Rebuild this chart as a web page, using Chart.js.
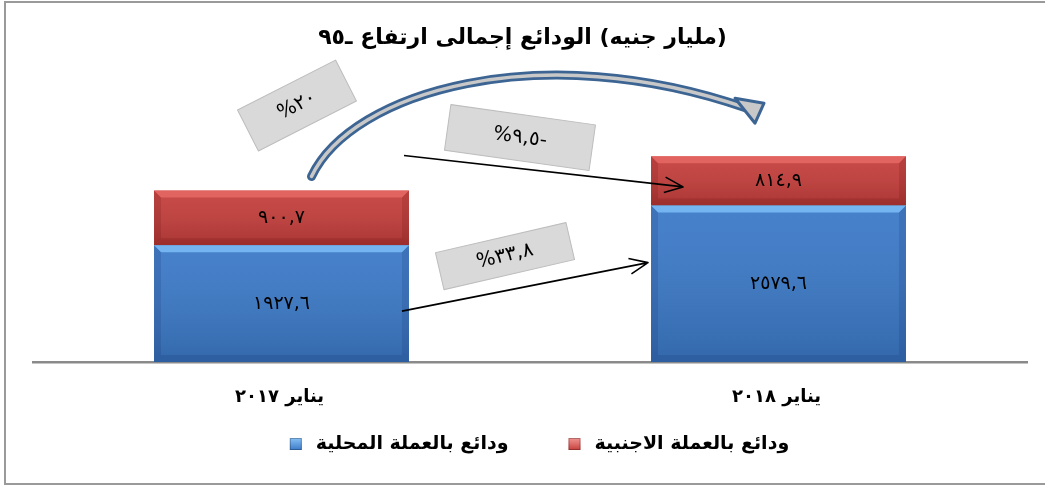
<!DOCTYPE html>
<html>
<head>
<meta charset="utf-8">
<script src="https://cdn.jsdelivr.net/npm/chart.js@4/dist/chart.umd.min.js"></script>
<style>
  html, body { margin: 0; padding: 0; background: #fff; }
  canvas { display: block; }
</style>
</head>
<body>
<canvas id="depositsChart" width="1045" height="485"></canvas>
<script>
// data (billion EGP)
const categories = ['يناير ٢٠١٧', 'يناير ٢٠١٨'];
const localDeposits = [1927.6, 2579.6];
const foreignDeposits = [900.7, 814.9];
const seriesNames = ['ودائع بالعملة المحلية', 'ودائع بالعملة الاجنبية'];
const seriesColors = ['#3b79c7', '#c43e3b'];
const chartTitle = '٩٥ـ ارتفاع إجمالى الودائع (مليار جنيه)';

const FONT = '"DejaVu Sans", sans-serif';

const arabicNum = v => String(v).replace('.', ',').replace(/[0-9]/g, d => '٠١٢٣٤٥٦٧٨٩'[d]);

function pctLabel(from, to) {
    const p = (to / from - 1) * 100;
    let s = Math.abs(p).toFixed(1);
    if (s.endsWith('.0')) s = s.slice(0, -2);
    return '%' + arabicNum(s) + (p < 0 ? '-' : '');
}

const totals = localDeposits.map((v, i) => v + foreignDeposits[i]);
const totalChange = pctLabel(totals[0], totals[1]);
const foreignChange = pctLabel(foreignDeposits[0], foreignDeposits[1]);
const localChange = pctLabel(localDeposits[0], localDeposits[1]);

// title in the picture: numbered words run left to right, the bracket keeps RTL order
function titlePieces(text) {
    const m = text.match(/^(.*?)\s*(\(.*\))$/);
    const main = m ? m[1] : text;
    const pieces = main.split(/(\s+|[\u0660-\u0669]+)/).filter(t => t !== '').map(t => ({ t, dir: 'ltr' }));
    if (m) pieces.push({ t: ' ', dir: 'ltr' }, { t: m[2], dir: 'rtl' });
    return pieces;
}
function drawTitle(ctx, text, cx, y) {
    const pieces = titlePieces(text);
    const w = pieces.reduce((s, p) => s + ctx.measureText(p.t).width, 0);
    let x = cx - w / 2;
    ctx.save();
    ctx.textBaseline = 'middle';
    pieces.forEach(p => {
        const pw = ctx.measureText(p.t).width;
        ctx.direction = p.dir;
        ctx.textAlign = p.dir === 'rtl' ? 'right' : 'left';
        if (p.t.trim()) ctx.fillText(p.t, p.dir === 'rtl' ? x + pw : x, y);
        x += pw;
    });
    ctx.restore();
}
function drawRtl(ctx, text, x, y, align) {
    ctx.save();
    ctx.direction = 'rtl';
    ctx.textAlign = align;
    ctx.textBaseline = 'middle';
    ctx.fillText(text, x, y);
    ctx.restore();
}

function bevel(ctx, el, light, dark) {
    const { x, y, base, width } = el.getProps(['x', 'y', 'base', 'width'], true);
    const l = x - width / 2, r = x + width / 2, t = Math.min(y, base), b = Math.max(y, base);
    const e = 7;
    const g = ctx.createLinearGradient(0, t, 0, b);
    g.addColorStop(0, 'rgba(255,255,255,0.06)');
    g.addColorStop(1, 'rgba(0,0,0,0.14)');
    ctx.fillStyle = g;
    ctx.fillRect(l, t, width, b - t);
    ctx.fillStyle = light;
    ctx.beginPath();
    ctx.moveTo(l, t); ctx.lineTo(r, t); ctx.lineTo(r - e, t + e); ctx.lineTo(l + e, t + e);
    ctx.closePath(); ctx.fill();
    ctx.fillStyle = dark;
    ctx.beginPath();
    ctx.moveTo(l, t); ctx.lineTo(l + e, t + e); ctx.lineTo(l + e, b - e); ctx.lineTo(l, b);
    ctx.closePath(); ctx.fill();
    ctx.beginPath();
    ctx.moveTo(r, t); ctx.lineTo(r - e, t + e); ctx.lineTo(r - e, b - e); ctx.lineTo(r, b);
    ctx.closePath(); ctx.fill();
    ctx.beginPath();
    ctx.moveTo(l, b); ctx.lineTo(l + e, b - e); ctx.lineTo(r - e, b - e); ctx.lineTo(r, b);
    ctx.closePath(); ctx.fill();
}

function arrow(ctx, x1, y1, x2, y2) {
    const a = Math.atan2(y2 - y1, x2 - x1), h = 20;
    ctx.beginPath();
    ctx.moveTo(x1, y1); ctx.lineTo(x2, y2);
    ctx.moveTo(x2 - h * Math.cos(a - 0.4), y2 - h * Math.sin(a - 0.4));
    ctx.lineTo(x2, y2);
    ctx.lineTo(x2 - h * Math.cos(a + 0.4), y2 - h * Math.sin(a + 0.4));
    ctx.stroke();
}

function tag(ctx, cx, cy, w, h, deg, text) {
    ctx.save();
    ctx.translate(cx, cy);
    ctx.rotate(deg * Math.PI / 180);
    ctx.fillStyle = '#d9d9d9';
    ctx.strokeStyle = '#bdbdbd';
    ctx.lineWidth = 1;
    ctx.fillRect(-w / 2, -h / 2, w, h);
    ctx.strokeRect(-w / 2, -h / 2, w, h);
    ctx.fillStyle = '#000';
    ctx.font = '20px ' + FONT;
    ctx.direction = 'ltr';
    ctx.textAlign = 'center';
    ctx.textBaseline = 'middle';
    ctx.fillText(text, 0, 0);
    ctx.restore();
}

const shades = [
    { light: 'rgba(120,185,245,0.9)', dark: 'rgba(20,50,110,0.18)' },
    { light: 'rgba(235,110,105,0.75)', dark: 'rgba(90,10,10,0.15)' }
];

const decorations = {
    id: 'decorations',
    beforeDraw(chart) {
        const ctx = chart.ctx;
        ctx.save();
        ctx.fillStyle = '#fff';
        ctx.fillRect(0, 0, chart.width, chart.height);
        ctx.strokeStyle = '#9a9a9a';
        ctx.lineWidth = 2;
        ctx.beginPath();
        ctx.moveTo(1046, 2); ctx.lineTo(5, 2); ctx.lineTo(5, 484); ctx.lineTo(1046, 484);
        ctx.stroke();
        ctx.restore();
    },
    afterDatasetsDraw(chart) {
        const ctx = chart.ctx;
        ctx.save();
        chart.data.datasets.forEach((ds, di) => {
            chart.getDatasetMeta(di).data.forEach((el, i) => {
                bevel(ctx, el, shades[di].light, shades[di].dark);
                ctx.fillStyle = '#000';
                ctx.font = '19px ' + FONT;
                ctx.direction = 'ltr';
                ctx.textAlign = 'center';
                ctx.textBaseline = 'middle';
                ctx.fillText(arabicNum(ds.data[i]), el.x, (el.y + el.base) / 2);
            });
        });
        ctx.restore();
    },
    afterDraw(chart) {
        const ctx = chart.ctx;
        const area = chart.chartArea;
        const xs = chart.scales.x;
        ctx.save();

        // title
        ctx.fillStyle = '#000';
        ctx.font = 'bold 22px ' + FONT;
        drawTitle(ctx, chartTitle, chart.width / 2, 38);

        // category labels
        ctx.font = 'bold 18px ' + FONT;
        categories.forEach((c, i) => drawRtl(ctx, c, xs.getPixelForTick(i) - 2, area.bottom + 35, 'center'));

        // legend
        ctx.font = 'bold 19px ' + FONT;
        const box = 12, gapBox = 14, gapItem = 60;
        const widths = seriesNames.map(n => box + gapBox + ctx.measureText(n).width);
        let lx = chart.width / 2 + 17 - (widths[0] + widths[1] + gapItem) / 2;
        const ly = 444;
        seriesNames.forEach((n, i) => {
            const g = ctx.createLinearGradient(0, ly - box / 2, 0, ly + box / 2);
            g.addColorStop(0, shades[i].light);
            g.addColorStop(1, seriesColors[i]);
            ctx.fillStyle = g;
            ctx.fillRect(lx, ly - box / 2, box, box);
            ctx.strokeStyle = 'rgba(0,0,0,0.25)';
            ctx.lineWidth = 1;
            ctx.strokeRect(lx + 0.5, ly - box / 2 + 0.5, box - 1, box - 1);
            ctx.fillStyle = '#000';
            drawRtl(ctx, n, lx + widths[i], ly, 'right');
            lx += widths[i] + gapItem;
        });

        const lo = chart.getDatasetMeta(0).data;
        const hi = chart.getDatasetMeta(1).data;
        const L = { right: lo[0].x + lo[0].width / 2, top: hi[0].y, mid: hi[0].base };
        const R = { left: lo[1].x - lo[1].width / 2, top: hi[1].y, mid: hi[1].base };

        // curved arrow for the total
        const sx = lo[0].x + 30, sy = L.top - 14;
        const ex = R.left + 96, ey = R.top - 48;
        ctx.lineCap = 'round';
        ctx.beginPath();
        ctx.moveTo(sx, sy);
        ctx.bezierCurveTo(sx + 40, sy - 85, R.left - 110, sy - 140, ex, ey);
        ctx.strokeStyle = '#3d6594';
        ctx.lineWidth = 9;
        ctx.stroke();
        ctx.strokeStyle = '#c8c8c8';
        ctx.lineWidth = 3.5;
        ctx.stroke();
        ctx.beginPath();
        ctx.moveTo(ex - 12, ey - 10);
        ctx.lineTo(ex + 17, ey - 5);
        ctx.lineTo(ex + 8, ey + 15);
        ctx.closePath();
        ctx.fillStyle = '#c8c8c8';
        ctx.fill();
        ctx.strokeStyle = '#3d6594';
        ctx.lineWidth = 3;
        ctx.lineJoin = 'round';
        ctx.stroke();

        // straight arrows for each currency
        ctx.strokeStyle = '#000';
        ctx.lineWidth = 1.6;
        ctx.lineCap = 'butt';
        arrow(ctx, L.right - 5, L.top - 35, R.left + 32, (R.top + R.mid) / 2 + 6);
        arrow(ctx, L.right - 7, L.mid + 66, R.left - 3, R.mid + 57);

        tag(ctx, L.right - 112, L.top - 85, 110, 46, -27, totalChange);
        tag(ctx, L.right + 111, L.top - 53, 146, 46, 8, foreignChange);
        tag(ctx, L.right + 96, L.mid + 11, 134, 38, -13, localChange);
        ctx.restore();
    }
};

new Chart(document.getElementById('depositsChart'), {
    type: 'bar',
    data: {
        labels: categories,
        datasets: [
            { label: seriesNames[0], data: localDeposits, backgroundColor: seriesColors[0] },
            { label: seriesNames[1], data: foreignDeposits, backgroundColor: seriesColors[1] }
        ]
    },
    options: {
        responsive: false,
        animation: false,
        devicePixelRatio: 1,
        layout: { padding: { left: 33, right: 18, top: 71, bottom: 53 } },
        datasets: { bar: { categoryPercentage: 0.57, barPercentage: 0.9, borderWidth: 0 } },
        scales: {
            x: {
                stacked: true,
                grid: { display: false, drawTicks: false },
                border: { display: true, color: '#8a8a8a', width: 2.5 },
                // labels are drawn in the plugin; keep them here for the layout
                ticks: { color: 'transparent', padding: 26, font: { family: FONT, size: 15, weight: 'bold' } }
            },
            y: { stacked: true, display: false, min: 0, max: 4800 }
        },
        plugins: {
            title: { display: false },
            legend: { display: false },
            tooltip: { enabled: false }
        }
    },
    plugins: [decorations]
});
</script>
</body>
</html>
